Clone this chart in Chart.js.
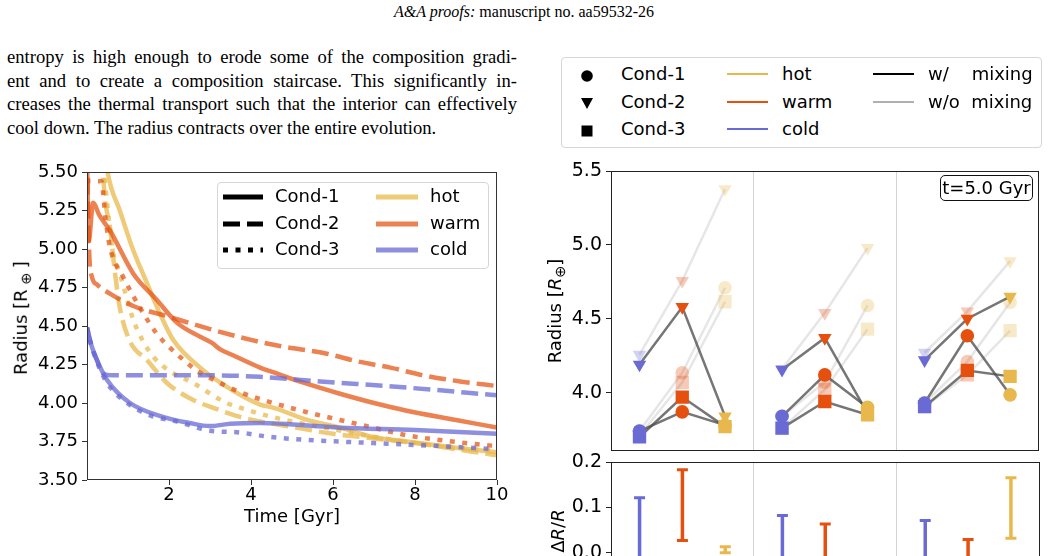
<!DOCTYPE html>
<html>
<head>
<meta charset="utf-8">
<script src="https://cdn.jsdelivr.net/npm/chart.js@4.4.0/dist/chart.umd.min.js"></script>
<style>
  html, body { margin: 0; padding: 0; background: #fff; }
  body { width: 1048px; height: 556px; overflow: hidden; position: relative; font-family: "DejaVu Sans", sans-serif; color: #000; }
  .abs { position: absolute; }
  canvas { position: absolute; }
  #header { left: 0; top: 3px; width: 1048px; text-align: center; font: 16px "Liberation Serif", serif; }
  #para { left: 7px; top: 45px; width: 510px; font: 18.6px/23.6px "Liberation Serif", serif; }
  #para div { text-align: justify; text-align-last: justify; }
  #para div.last { text-align-last: left; }
  .legend { position: absolute; border: 1px solid #d6d6d6; border-radius: 4px; background: rgba(255,255,255,0.85); }
  .item { position: absolute; font-size: 18px; line-height: 20px; white-space: pre; }
  .sample { position: absolute; }
  .ylab { position: absolute; white-space: pre; transform: translate(-50%, -50%) rotate(-90deg); font-size: 18px; }
  .ylab sub { font-size: 0.8em; vertical-align: -0.3em; }
  #tbox { left: 940px; top: 175px; width: 91px; height: 24px; border: 1.3px solid #111; border-radius: 5px; font-size: 18px; line-height: 24px; text-align: center; }
</style>
</head>
<body>
<div id="header" class="abs"><i>A&amp;A proofs:</i> manuscript no. aa59532-26</div>
<div id="para" class="abs">
  <div>entropy is high enough to erode some of the composition gradi-</div>
  <div>ent and to create a composition staircase. This significantly in-</div>
  <div>creases the thermal transport such that the interior can effectively</div>
  <div class="last">cool down. The radius contracts over the entire evolution.</div>
</div>

<canvas id="evo"></canvas>
<canvas id="radius"></canvas>
<canvas id="delta"></canvas>

<div class="ylab" style="left:22px; top:318px;">Radius [R<sub> ⊕ </sub>]</div>
<div class="ylab" style="left:556px; top:311px;">Radius [<i>R</i><sub>⊕</sub>]</div>
<div class="ylab" style="left:557px; top:531px;">Δ<i>R</i>/<i>R</i></div>
<div id="tbox" class="abs">t=5.0 Gyr</div>

<div class="legend" style="left:217px; top:182px; width:270px; height:85px;">
  <svg class="sample" style="left:5px; top:9px" width="40" height="10"><line x1="0" y1="5" x2="40" y2="5" stroke="#000" stroke-width="5"/></svg>
  <svg class="sample" style="left:5px; top:36px" width="40" height="10"><line x1="0" y1="5" x2="40" y2="5" stroke="#000" stroke-width="5" stroke-dasharray="17 7"/></svg>
  <svg class="sample" style="left:5px; top:62px" width="40" height="10"><line x1="0" y1="5" x2="40" y2="5" stroke="#000" stroke-width="5" stroke-dasharray="5 7.5"/></svg>
  <div class="item" style="left:57px; top:3px">Cond-1</div>
  <div class="item" style="left:57px; top:30px">Cond-2</div>
  <div class="item" style="left:57px; top:56px">Cond-3</div>
  <svg class="sample" style="left:158px; top:9px" width="42" height="10"><line x1="0" y1="5" x2="42" y2="5" stroke="rgba(232,184,76,0.75)" stroke-width="5"/></svg>
  <svg class="sample" style="left:158px; top:36px" width="42" height="10"><line x1="0" y1="5" x2="42" y2="5" stroke="rgba(229,80,15,0.72)" stroke-width="5"/></svg>
  <svg class="sample" style="left:158px; top:62px" width="42" height="10"><line x1="0" y1="5" x2="42" y2="5" stroke="rgba(106,106,213,0.75)" stroke-width="5"/></svg>
  <div class="item" style="left:212px; top:3px">hot</div>
  <div class="item" style="left:212px; top:30px">warm</div>
  <div class="item" style="left:212px; top:56px">cold</div>
</div>

<div class="legend" style="left:561px; top:57px; width:479px; height:89px;">
  <svg class="sample" style="left:18px; top:11px" width="14" height="14"><circle cx="7" cy="7" r="5.8" fill="#000"/></svg>
  <svg class="sample" style="left:18px; top:38px" width="14" height="14"><polygon points="1,2 13,2 7,13" fill="#000"/></svg>
  <svg class="sample" style="left:18px; top:66px" width="14" height="14"><rect x="1.5" y="1.5" width="11" height="11" fill="#000"/></svg>
  <div class="item" style="left:59px; top:6px">Cond-1</div>
  <div class="item" style="left:59px; top:34px">Cond-2</div>
  <div class="item" style="left:59px; top:61px">Cond-3</div>
  <svg class="sample" style="left:165px; top:14px" width="41" height="4"><line x1="0" y1="2" x2="41" y2="2" stroke="#E8B84C" stroke-width="2"/></svg>
  <svg class="sample" style="left:165px; top:42px" width="41" height="4"><line x1="0" y1="2" x2="41" y2="2" stroke="#E5500F" stroke-width="2"/></svg>
  <svg class="sample" style="left:165px; top:69px" width="41" height="4"><line x1="0" y1="2" x2="41" y2="2" stroke="#6A6AD5" stroke-width="2"/></svg>
  <div class="item" style="left:220px; top:6px">hot</div>
  <div class="item" style="left:220px; top:34px">warm</div>
  <div class="item" style="left:220px; top:61px">cold</div>
  <svg class="sample" style="left:311px; top:14px" width="41" height="4"><line x1="0" y1="2" x2="41" y2="2" stroke="#000" stroke-width="2"/></svg>
  <svg class="sample" style="left:311px; top:42px" width="41" height="4"><line x1="0" y1="2" x2="41" y2="2" stroke="#b0b0b0" stroke-width="2"/></svg>
  <div class="item" style="left:366px; top:6px">w/    mixing</div>
  <div class="item" style="left:366px; top:34px">w/o  mixing</div>
</div>

<script>
// ---- left panel: radius evolution, [time Gyr, radius R_earth] ----
const hotCond1 = [[0.45,5.62],[0.51,5.49],[0.8,5.25],[1.13,4.99],[1.46,4.78],[1.78,4.58],[2.1,4.41],[2.76,4.23],[3.56,4.08],[4.22,3.99],[4.54,3.97],[5.37,3.89],[6.17,3.84],[6.98,3.78],[7.8,3.75],[9,3.71],[10,3.68]];
const hotCond2 = [[0.36,5.62],[0.4,5.45],[0.45,5.3],[0.56,5.14],[0.68,4.85],[0.8,4.62],[1.05,4.4],[1.46,4.28],[1.95,4.13],[2.59,4.02],[3.17,3.96],[3.73,3.91],[4.22,3.88],[5.1,3.84],[6.0,3.8],[7.0,3.77],[8.0,3.74],[9.0,3.7],[10,3.66]];
const hotCond3 = [[0.36,5.62],[0.45,5.4],[0.55,5.15],[0.64,4.97],[0.8,4.84],[1.13,4.54],[1.37,4.4],[1.62,4.3],[2.0,4.21],[2.59,4.13],[3.07,4.05],[3.41,4.0],[3.73,3.97],[4.22,3.93],[5.0,3.88],[6.0,3.83],[7.0,3.78],[8.0,3.74],[9.0,3.71],[10,3.69]];
const warmCond1 = [[0,5.62],[0.04,5.05],[0.15,5.3],[0.3,5.22],[0.56,5.12],[1.13,4.84],[1.7,4.67],[2.2,4.52],[2.76,4.43],[3.05,4.39],[3.24,4.35],[3.56,4.31],[4.22,4.23],[4.54,4.2],[5.3,4.13],[6.17,4.06],[7.0,4.0],[7.8,3.95],[9,3.89],[10,3.84]];
const warmCond2 = [[0,5.62],[0.05,5.0],[0.12,4.82],[0.24,4.77],[0.56,4.71],[1.13,4.63],[2.0,4.56],[3.0,4.48],[4.0,4.41],[4.7,4.37],[5.85,4.32],[6.6,4.27],[7.4,4.23],[8.2,4.18],[9.1,4.14],[10,4.11]];
const warmCond3 = [[0,5.62],[0.03,5.44],[0.35,5.44],[0.45,5.2],[0.56,5.01],[0.88,4.82],[1.29,4.62],[1.7,4.45],[1.98,4.37],[2.44,4.26],[2.68,4.21],[3.17,4.14],[3.73,4.07],[4.54,4.0],[5.37,3.94],[6.17,3.89],[6.98,3.84],[7.8,3.79],[8.6,3.76],[9.6,3.73],[10,3.72]];
const coldCond1 = [[0,4.49],[0.1,4.38],[0.24,4.28],[0.49,4.15],[1.05,4.0],[1.85,3.91],[2.5,3.87],[3.0,3.85],[3.5,3.865],[4.22,3.87],[6.17,3.84],[8,3.825],[10,3.8]];
const coldCond2 = [[0,4.49],[0.1,4.38],[0.24,4.28],[0.4,4.19],[0.6,4.18],[1.5,4.18],[3,4.18],[4.22,4.17],[5.7,4.14],[7.8,4.1],[10,4.05]];
const coldCond3 = [[0,4.49],[0.1,4.38],[0.24,4.27],[0.49,4.13],[0.98,4.0],[1.54,3.92],[2.2,3.88],[3.0,3.82],[3.66,3.81],[4.46,3.78],[5.37,3.76],[6.98,3.74],[8.6,3.72],[10,3.7]];
const timeTicks = [2, 4, 6, 8, 10];
const radiusTicks = [3.5, 3.75, 4.0, 4.25, 4.5, 4.75, 5.0, 5.25, 5.5];

// ---- right panels: radius at t = 5 Gyr, per group [cold, warm, hot] ----
const tempNames = ['cold', 'warm', 'hot'];
const groupX = [0.2, 0.5, 0.8];
const mixCond1 = [[3.74, 3.87, 3.78], [3.84, 4.12, 3.90], [3.93, 4.385, 3.985]];
const mixCond2 = [[4.19, 4.58, 3.84], [4.155, 4.37, 3.86], [4.22, 4.50, 4.65]];
const mixCond3 = [[3.70, 3.97, 3.77], [3.76, 3.94, 3.85], [3.905, 4.15, 4.11]];
const noMixCond1 = [[3.74, 4.135, 4.71], [3.84, 4.07, 4.59], [3.93, 4.21, 4.61]];
const noMixCond2 = [[4.257, 4.757, 5.378], [4.16, 4.54, 4.98], [4.27, 4.55, 4.89]];
const noMixCond3 = [[3.71, 4.07, 4.615], [3.76, 4.02, 4.43], [3.905, 4.12, 4.42]];
const radiusTicksR = [4.0, 4.5, 5.0, 5.5];
// relative radius spread, per group [cold, warm, hot]
const errLow = [[-0.04, 0.027, 0.0], [-0.04, -0.04, -0.06], [-0.04, -0.04, 0.032]];
const errHigh = [[0.121, 0.183, 0.013], [0.082, 0.063, -0.02], [0.071, 0.029, 0.165]];
const deltaTicks = [-0.1, 0.0, 0.1, 0.2];

const HOT = '#E8B84C', WARM = '#E5500F', COLD = '#6A6AD5';
const tempColors = [COLD, WARM, HOT];
const tempFaint = ['rgba(106,106,213,0.3)', 'rgba(229,80,15,0.3)', 'rgba(232,184,76,0.3)'];
const FONT = { family: 'DejaVu Sans', size: 18 };

const framePlugin = {
  id: 'frame',
  afterDatasetsDraw(chart, args, opts) {
    const { ctx, chartArea: a } = chart;
    const l = Math.round(a.left) + 0.5, t = Math.round(a.top) + 0.5;
    const r = Math.round(a.right) - 0.5, b = Math.round(a.bottom) - 0.5;
    ctx.save();
    ctx.strokeStyle = opts.color || '#222';
    ctx.lineWidth = 1;
    ctx.strokeRect(l, t, r - l, b - t);
    ctx.restore();
  }
};
Chart.register(framePlugin);

// position canvas so that the plot area lands on a fixed rectangle
function setup(id, box, area) {
  const c = document.getElementById(id);
  c.width = box.w; c.height = box.h;
  c.style.left = box.x + 'px'; c.style.top = box.y + 'px';
  return {
    canvas: c,
    padding: { left: 0, top: area.top - box.y, right: box.x + box.w - area.right, bottom: 0 },
    yWidth: area.left - box.x,
    xHeight: box.y + box.h - area.bottom,
  };
}

const toXY = pts => pts.map(([x, y]) => ({ x, y }));
const fixTicks = vals => s => { s.ticks = vals.map(v => ({ value: v })); };
const fitY = w => s => { s.width = w; s.paddingTop = 0; s.paddingBottom = 0; };
const fitX = h => s => { s.height = h; s.paddingLeft = 0; s.paddingRight = 0; };

// ---------- left chart ----------
const L = setup('evo', { x: 0, y: 160, w: 520, h: 368 }, { left: 87, top: 172, right: 497, bottom: 480 });
const lineSet = (pts, color, dash) => ({
  data: toXY(pts), borderColor: color, borderWidth: 4.5, borderDash: dash,
  borderCapStyle: 'butt', pointRadius: 0, fill: false, cubicInterpolationMode: 'monotone',
});
const hotA = 'rgba(232,184,76,0.75)', warmA = 'rgba(229,80,15,0.72)', coldA = 'rgba(106,106,213,0.75)';
const DASH = [17, 7], DOT = [5, 7.5];

new Chart(L.canvas, {
  type: 'line',
  data: {
    datasets: [
      lineSet(coldCond1, coldA, []), lineSet(coldCond2, coldA, DASH), lineSet(coldCond3, coldA, DOT),
      lineSet(warmCond1, warmA, []), lineSet(warmCond2, warmA, DASH), lineSet(warmCond3, warmA, DOT),
      lineSet(hotCond1, hotA, []), lineSet(hotCond2, hotA, DASH), lineSet(hotCond3, hotA, DOT),
    ],
  },
  options: {
    responsive: false, animation: false, events: [],
    layout: { padding: L.padding },
    plugins: { legend: { display: false }, tooltip: { enabled: false }, frame: { color: '#333' } },
    scales: {
      x: {
        type: 'linear', min: 0, max: 10,
        afterBuildTicks: fixTicks(timeTicks),
        afterFit: fitX(L.xHeight),
        grid: { drawOnChartArea: false, tickLength: 5, color: '#333' },
        border: { display: false },
        ticks: { color: '#000', font: FONT, padding: 0, maxRotation: 0 },
        title: { display: true, text: 'Time [Gyr]', color: '#000', font: FONT, padding: 0 },
      },
      y: {
        type: 'linear', min: 3.5, max: 5.5,
        afterBuildTicks: fixTicks(radiusTicks),
        afterFit: fitY(L.yWidth),
        grid: { drawOnChartArea: false, tickLength: 5, color: '#333' },
        border: { display: false },
        ticks: { color: '#000', font: FONT, padding: 4, callback: v => v.toFixed(2) },
      },
    },
  },
});

// ---------- right top chart ----------
const R = setup('radius', { x: 540, y: 150, w: 508, h: 322 }, { left: 611, top: 171, right: 1042, bottom: 451 });
const conds = [
  { mix: mixCond1, noMix: noMixCond1, style: 'circle', radius: 6.8, rot: 0 },
  { mix: mixCond2, noMix: noMixCond2, style: 'triangle', radius: 7.8, rot: 180 },
  { mix: mixCond3, noMix: noMixCond3, style: 'rect', radius: 9.4, rot: 0 },
];
const radiusSets = [];
for (let g = 0; g < 3; g++) {
  conds.forEach(c => {
    [[c.noMix, 'rgba(200,200,200,0.45)', tempFaint, 4, 3], [c.mix, 'rgba(80,80,80,0.78)', tempColors, 2, 1]].forEach(([vals, lineCol, ptCols, lineOrder, ptOrder]) => {
      const pts = vals[g].map((v, i) => ({ x: g + groupX[i], y: v }));
      radiusSets.push({ data: pts, showLine: true, borderColor: lineCol, borderWidth: 2.5, pointRadius: 0, order: lineOrder });
      radiusSets.push({
        data: pts, showLine: false, pointStyle: c.style, pointRadius: c.radius, pointRotation: c.rot,
        pointBackgroundColor: ptCols, pointBorderWidth: 0, order: ptOrder,
      });
    });
  });
}
const sepGrid = { color: '#d4d4d4', drawTicks: false, lineWidth: 1 };

new Chart(R.canvas, {
  type: 'scatter',
  data: { datasets: radiusSets },
  options: {
    responsive: false, animation: false, events: [],
    layout: { padding: R.padding },
    plugins: { legend: { display: false }, tooltip: { enabled: false }, frame: { color: '#222' } },
    scales: {
      x: {
        type: 'linear', min: 0, max: 3,
        afterBuildTicks: fixTicks([1, 2]),
        afterFit: fitX(R.xHeight),
        grid: sepGrid, border: { display: false }, ticks: { display: false },
      },
      y: {
        type: 'linear', min: 3.605, max: 5.5,
        afterBuildTicks: fixTicks(radiusTicksR),
        afterFit: fitY(R.yWidth),
        grid: { drawOnChartArea: false, tickLength: 5, color: '#222' },
        border: { display: false },
        ticks: { color: '#000', font: { family: 'DejaVu Sans', size: 19 }, padding: 4, callback: v => v.toFixed(1) },
      },
    },
  },
});

// ---------- right bottom chart ----------
const D = setup('delta', { x: 540, y: 450, w: 508, h: 170 }, { left: 611, top: 462, right: 1042, bottom: 598 });
const deltaSets = [];
for (let g = 0; g < 3; g++) {
  tempNames.forEach((name, i) => {
    deltaSets.push({
      label: name,
      data: [{ x: g + groupX[i], y: errLow[g][i] }, { x: g + groupX[i], y: errHigh[g][i] }],
      showLine: true, borderColor: tempColors[i], borderWidth: 3.5, borderCapStyle: 'butt',
      pointStyle: 'line', pointRadius: 5.5, pointBorderWidth: 3, pointBorderColor: tempColors[i],
    });
  });
}

new Chart(D.canvas, {
  type: 'scatter',
  data: { datasets: deltaSets },
  options: {
    responsive: false, animation: false, events: [],
    layout: { padding: D.padding },
    plugins: { legend: { display: false }, tooltip: { enabled: false }, frame: { color: '#222' } },
    scales: {
      x: {
        type: 'linear', min: 0, max: 3,
        afterBuildTicks: fixTicks([1, 2]),
        afterFit: fitX(D.xHeight),
        grid: sepGrid, border: { display: false }, ticks: { display: false },
      },
      y: {
        type: 'linear', min: -0.1, max: 0.2,
        afterBuildTicks: fixTicks(deltaTicks),
        afterFit: fitY(D.yWidth),
        grid: { drawOnChartArea: false, tickLength: 5, color: '#222' },
        border: { display: false },
        ticks: { color: '#000', font: { family: 'DejaVu Sans', size: 19 }, padding: 4, callback: v => v.toFixed(1) },
      },
    },
  },
});
</script>
</body>
</html>
